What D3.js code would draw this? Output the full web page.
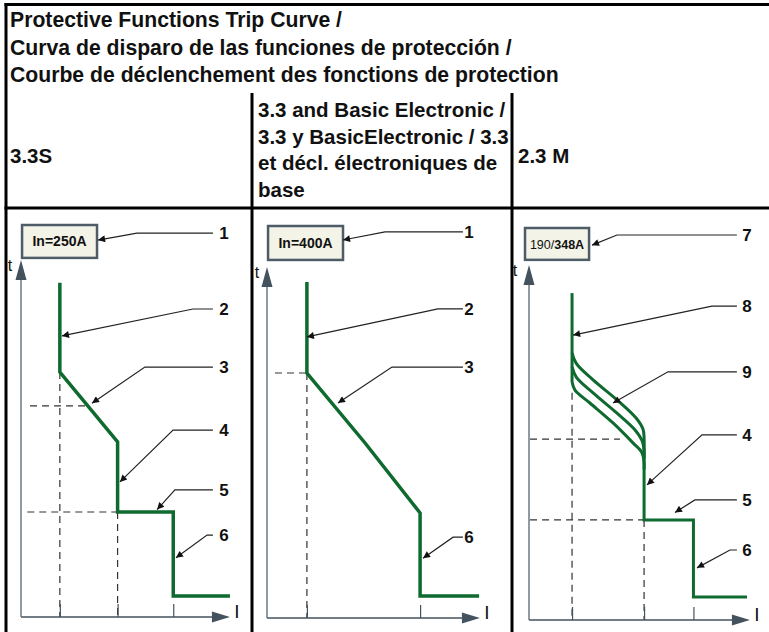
<!DOCTYPE html>
<html>
<head>
<meta charset="utf-8">
<script src="https://cdn.jsdelivr.net/npm/d3@7"></script>
<style>
  body { margin: 0; background: #fff; }
  svg { display: block; }
  text { font-family: "Liberation Sans", Arial, sans-serif; fill: #111; }
</style>
</head>
<body>
<svg id="chart" width="769" height="632"></svg>
<script>
// ---- text ----
var titleLines = [
  "Protective Functions Trip Curve /",
  "Curva de disparo de las funciones de protección /",
  "Courbe de déclenchement des fonctions de protection"
]
var columnHeads = [
  ["3.3S"],
  ["3.3 and Basic Electronic /", "3.3 y BasicElectronic / 3.3", "et décl. électroniques de", "base"],
  ["2.3 M"]
]
var ratingLabels = [["In=250A"], ["In=400A"], ["190/", "348A"]]

// ---- trip curves, [I, t] in arbitrary units ----
var curve33S = [[1.85, 9.55], [1.85, 7.0], [4.6, 5.0], [4.6, 3.0], [7.25, 3.0], [7.25, 0.6], [9.95, 0.6]]
var curve33 = [[1.9, 9.6], [1.9, 7.0], [4.67, 5.0], [7.29, 3.0], [7.29, 0.63], [10.1, 0.63]]
var curve23M = [[2.05, 9.34], [2.05, 6.8]]
var curve23MLow = [[5.48, 4.6], [5.48, 2.86], [7.83, 2.86], [7.83, 0.66], [10.38, 0.66]]
var thermalBand = [
  [[2.05, 7.63], [2.25, 7.33], [3.05, 6.86], [4.19, 6.29], [5.1, 5.77], [5.43, 5.45], [5.48, 5.2], [5.48, 4.6]],
  [[2.05, 7.23], [2.25, 6.94], [3.05, 6.49], [4.19, 5.91], [5.05, 5.43], [5.4, 5.1], [5.48, 4.8], [5.48, 4.6]],
  [[2.05, 6.8], [2.19, 6.57], [2.9, 6.2], [4.0, 5.63], [4.95, 5.06], [5.38, 4.78], [5.48, 4.5], [5.48, 4.3]]
]

// ---- dashed guides [[I,t],[I,t]] ----
var guides33S = [
  [[1.85, 7.0], [1.85, 0]], [[0.43, 6.03], [3.18, 6.03]],
  [[0.3, 3.0], [4.6, 3.0]], [[4.6, 3.0], [4.6, 0]]
]
var guides33 = [[[0.38, 7.0], [1.9, 7.0]], [[1.9, 7.0], [1.9, 0]]]
var guides23M = [
  [[2.05, 6.49], [2.05, 0]], [[0.05, 5.17], [4.33, 5.17]],
  [[0.05, 2.86], [5.48, 2.86]], [[5.48, 2.86], [5.48, 0]]
]
var ticks33S = [1.85, 4.6, 7.25]
var ticks33 = [1.9, 7.29]
var ticks23M = [2.05, 5.48, 7.83]

// ---- callouts: [label, label t, elbow I, tip I, tip t] ----
var callouts33S = [
  ["1", 10.97, 5.52, 3.67, 10.77],
  ["2", 8.8, 8.19, 1.95, 8.03],
  ["3", 7.14, 5.9, 3.38, 6.11],
  ["4", 5.34, 7.24, 4.71, 3.86],
  ["5", 3.63, 7.33, 6.48, 3.07],
  ["6", 2.34, 8.86, 7.38, 1.69]
]
var callouts33 = [
  ["1", 11.03, 5.62, 3.62, 10.8],
  ["2", 8.83, 8.14, 1.9, 8.03],
  ["3", 7.17, 5.95, 3.38, 6.14],
  ["6", 2.31, 8.86, 7.43, 1.71]
]
var callouts23M = [
  ["7", 11.0, 4.19, 3.0, 10.71],
  ["8", 8.97, 8.71, 2.1, 8.14],
  ["9", 7.09, 6.62, 4.0, 6.2],
  ["4", 5.29, 8.24, 5.62, 3.86],
  ["5", 3.43, 7.9, 6.95, 3.07],
  ["6", 2.0, 9.57, 8.0, 1.49]
]

var panels = [
  {x0: 21, y0: 617, xTip: 9.95, yTip: 10.2, tDx: -11, box: [0.05, 3.62, 11.2, 10.26], labelI: 9.67, startI: 9.14,
   curves: [curve33S], band: [], guides: guides33S, ticks: ticks33S, callouts: callouts33S, rating: ratingLabels[0], sw: 3.5},
  {x0: 267, y0: 618, xTip: 10.14, yTip: 10.03, tDx: -10, box: [0.05, 3.62, 11.2, 10.23], labelI: 9.62, startI: 9.33,
   curves: [curve33], band: [], guides: guides33, ticks: ticks33, callouts: callouts33, rating: ratingLabels[1], sw: 3.5},
  {x0: 529, y0: 620, xTip: 10.52, yTip: 10.14, tDx: -14, box: [-0.19, 2.86, 11.2, 10.29], labelI: 10.38, startI: 9.9,
   curves: [curve23M, curve23MLow], band: thermalBand, guides: guides23M, ticks: ticks23M, callouts: callouts23M, rating: ratingLabels[2], sw: 3}
]

var green = "#0e6a2e", axisCol = "#44525e"

var svg = d3.select("#chart")
var defs = svg.append("defs")
defs.append("marker").attr("id", "tip")
  .attr("viewBox", "0 0 10 10").attr("refX", 10).attr("refY", 5)
  .attr("markerWidth", 10).attr("markerHeight", 7).attr("markerUnits", "userSpaceOnUse")
  .attr("orient", "auto")
  .append("path").attr("d", "M0,0L10,5L0,10Z").attr("fill", "#111")

// ---- table ----
var grid = svg.append("g").attr("stroke", "#000").attr("stroke-width", 3)
grid.append("line").attr("x1", 6).attr("x2", 6).attr("y1", 3).attr("y2", 632)
grid.append("line").attr("x1", 4.5).attr("x2", 769).attr("y1", 4.5).attr("y2", 4.5)
grid.append("line").attr("x1", 4.5).attr("x2", 769).attr("y1", 208).attr("y2", 208)
grid.selectAll(".col").data([252, 512]).join("line")
  .attr("x1", d => d).attr("x2", d => d).attr("y1", 93).attr("y2", 632)

var head = svg.append("g").attr("font-weight", "bold")
head.selectAll(".title").data(titleLines).join("text")
  .attr("font-size", 21.2)
  .attr("x", 10).attr("y", (d, i) => 27 + i * 27.5).text(d => d)
var headX = [10, 258, 518]
var headY = [[163], [117, 144, 170, 197], [163]]
columnHeads.forEach(function (lines, c) {
  head.selectAll(".h" + c).data(lines).join("text")
    .attr("font-size", 20.5)
    .attr("x", headX[c]).attr("y", (d, i) => headY[c][i]).text(d => d)
})

// ---- panels ----
var line = d3.line()
panels.forEach(function (p) {
  var x = d3.scaleLinear().domain([0, 10]).range([p.x0, p.x0 + 210])
  var y = d3.scaleLinear().domain([0, 10]).range([p.y0, p.y0 - 350])
  var g = svg.append("g")
  var pt = d => [x(d[0]), y(d[1])]

  // dashed guides
  g.selectAll(".guide").data(p.guides).join("path")
    .attr("d", d => line(d.map(pt)))
    .attr("fill", "none").attr("stroke", "#333").attr("stroke-width", 1.2)
    .attr("stroke-dasharray", "7,5")

  // axes
  var ax = g.append("g").attr("transform", "translate(0," + p.y0 + ")")
    .call(d3.axisBottom(x).tickValues(p.ticks).tickSize(-13).tickSizeOuter(0).tickFormat(""))
  ax.select(".domain").remove()
  ax.selectAll(".tick line").attr("stroke", axisCol).attr("stroke-width", 1.2)

  g.append("line").attr("x1", x(0)).attr("x2", x(p.xTip) - 16).attr("y1", y(0)).attr("y2", y(0))
    .attr("stroke", axisCol).attr("stroke-width", 1.5)
  g.append("line").attr("x1", x(0)).attr("x2", x(0)).attr("y1", y(0)).attr("y2", y(p.yTip) + 16)
    .attr("stroke", "#6b7884").attr("stroke-width", 1.5)
  g.append("path").attr("fill", axisCol)
    .attr("d", "M" + x(p.xTip) + "," + y(0) + "l-18,-5.5l0,11Z")
  g.append("path").attr("fill", axisCol)
    .attr("d", "M" + x(0) + "," + y(p.yTip) + "l-5.5,20l11,0Z")
  g.append("text").attr("x", x(0) + p.tDx).attr("y", y(p.yTip) + 11)
    .attr("text-anchor", "middle").attr("font-size", 16).text("t")
  g.append("text").attr("x", x(p.xTip) + 7).attr("y", y(0) + 1)
    .attr("text-anchor", "middle").attr("font-size", 19).text("I")

  // trip curve
  g.selectAll(".band").data(p.band).join("path")
    .attr("d", d => d3.line().curve(d3.curveCatmullRom.alpha(0.5))(d.map(pt)))
    .attr("fill", "none").attr("stroke", green).attr("stroke-width", p.sw)
  g.selectAll(".curve").data(p.curves).join("path")
    .attr("d", d => line(d.map(pt)))
    .attr("fill", "none").attr("stroke", green).attr("stroke-width", p.sw)
    .attr("stroke-linejoin", "miter")

  // rating box
  var b = p.box
  g.append("rect").attr("x", x(b[0])).attr("y", y(b[2]))
    .attr("width", x(b[1]) - x(b[0])).attr("height", y(b[3]) - y(b[2]))
    .attr("fill", "#f3f3e7").attr("stroke", "#4e5c68").attr("stroke-width", 2.5)
  var bt = g.append("text").attr("x", (x(b[0]) + x(b[1])) / 2).attr("y", (y(b[2]) + y(b[3])) / 2 + 5)
    .attr("text-anchor", "middle").attr("font-size", p.rating.length > 1 ? 12.5 : 14)
  p.rating.forEach(function (s, i) {
    bt.append("tspan").attr("font-weight", (p.rating.length > 1 && i == 0) ? "normal" : "bold").text(s)
  })

  // callouts
  var co = g.selectAll(".callout").data(p.callouts).join("g")
  co.append("path")
    .attr("d", d => line([[x(p.startI), y(d[1])], [x(d[2]), y(d[1])], [x(d[3]), y(d[4])]]))
    .attr("fill", "none").attr("stroke", "#222").attr("stroke-width", 1.2)
    .attr("marker-end", "url(#tip)")
  co.append("text").attr("x", x(p.labelI)).attr("y", d => y(d[1]) + 6)
    .attr("text-anchor", "middle").attr("font-weight", "bold").attr("font-size", 17)
    .text(d => d[0])
})
</script>
</body>
</html>
